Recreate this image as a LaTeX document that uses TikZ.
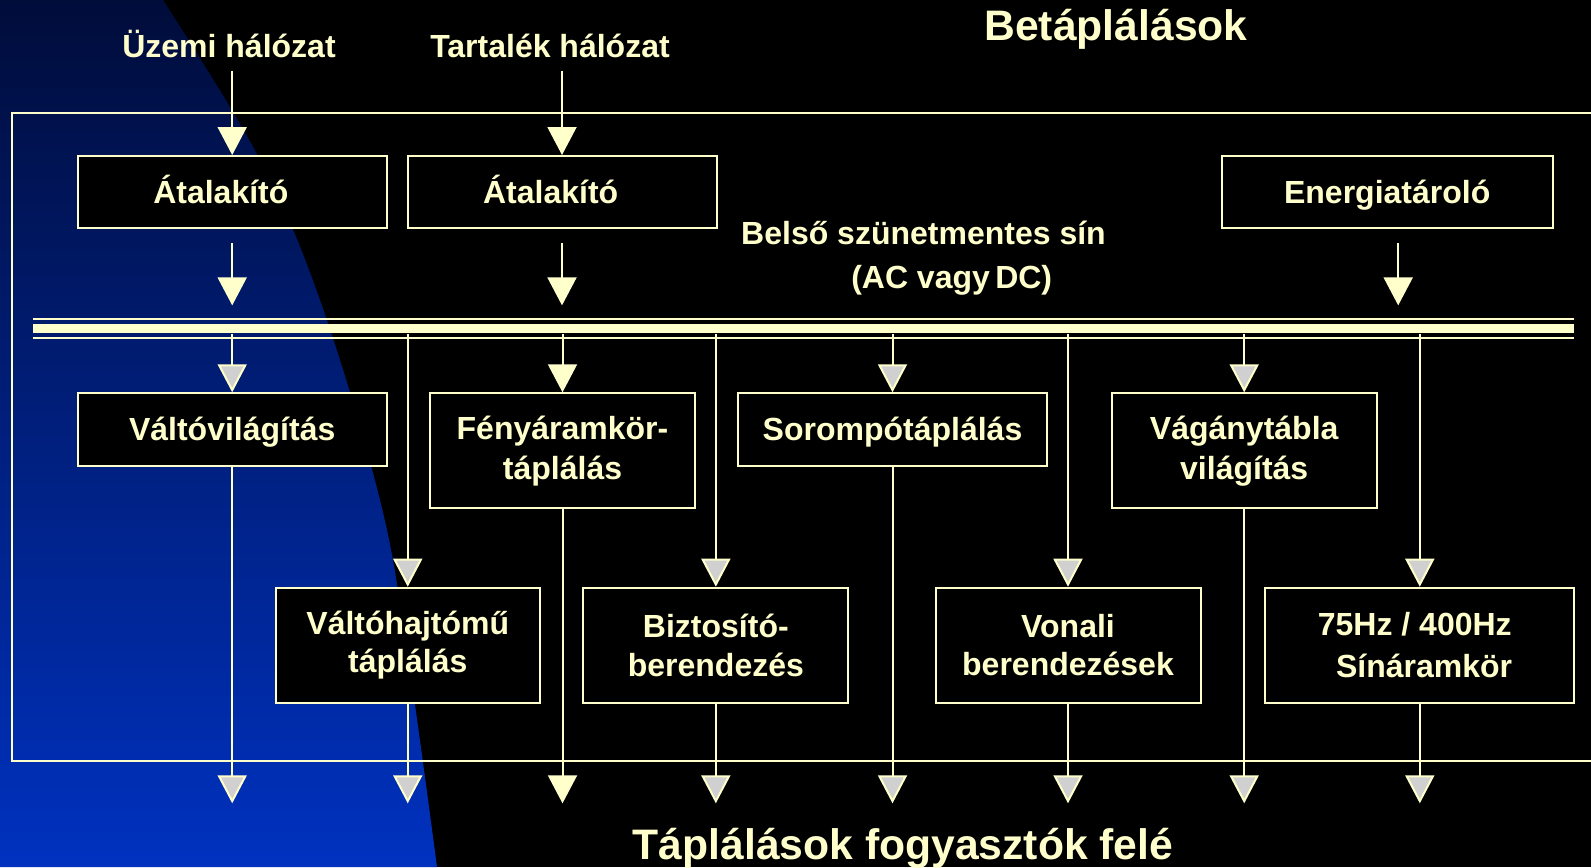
\documentclass[tikz,border=0pt]{standalone}
\usepackage{fontspec}
\setmainfont{Liberation Sans}
\usetikzlibrary{arrows.meta}
\definecolor{cream}{RGB}{255,255,204}
\definecolor{tipgrey}{RGB}{208,208,208}
\definecolor{navytop}{RGB}{0,12,58}
\definecolor{bluebot}{RGB}{0,50,192}
\newcommand\boxfont{\fontsize{24pt}{28pt}\selectfont\bfseries}
\newcommand\headfont{\fontsize{32pt}{38pt}\selectfont\bfseries}

\begin{document}
\begin{tikzpicture}[x=0.75pt,y=-0.75pt,
  box/.style={draw=cream, line width=1.5pt, fill=black, text=cream,
              font=\boxfont, align=center, inner sep=0pt},
  wide/.style={minimum width=231.75pt},
  narrow/.style={minimum width=198.75pt},
  short/.style={minimum height=54.2pt, text height=17.2pt, text depth=0pt},
  tall/.style={minimum height=86.25pt},
  lbl/.style={text=cream, font=\boxfont, inner sep=0pt, anchor=base},
  wire/.style={draw=cream, line width=1.5pt},
  feed/.style={wire, -{Triangle[length=21pt,width=21.75pt,fill=cream]}},
  feedg/.style={wire, -{Triangle[length=21pt,width=21.75pt,fill=tipgrey]}},
  busline/.style={draw=cream, line width=1.8pt},
]
\useasboundingbox (0,0) rectangle (1591,867);
\clip (0,0) rectangle (1591,867);

% background: black with a blue wedge on the left
\fill[black] (0,0) rectangle (1591,867);
\shade[top color=navytop, bottom color=bluebot]
  (0,0) -- plot[smooth, tension=0.6] coordinates
    {(163,0) (258,156) (320,300) (380,500) (407,650) (437,867)}
  -- (0,867) -- cycle;

% outer frame, open to the right
\draw[wire] (1600,113) -- (12.3,113) -- (12.3,760.5) -- (1600,760.5);

% headings
\node[lbl, font=\headfont] (title) at (1116,40.6) {Betáplálások};
\node[lbl] (uzemi) at (229,58) {Üzemi hálózat};
\node[lbl] (tartalek) at (550,58) {Tartalék hálózat};
\node[lbl] (sin1) at (923.5,244) {Belső szünetmentes sín};
\node[lbl] (sin2) at (951.7,288) {(AC vagy\,DC)};
\node[lbl, font=\headfont] (foot) at (903,859) {Táplálások fogyasztók felé};

% internal uninterruptible bus
\node[fill=cream, inner sep=0pt, minimum width=1155.75pt, minimum height=6.75pt] (bus) at (803.5,328.8) {};
\draw[busline] ([yshift=3.6pt]bus.north west) -- ([yshift=3.6pt]bus.north east);
\draw[busline] ([yshift=-3.3pt]bus.south west) -- ([yshift=-3.3pt]bus.south east);

% sources
\node[box, wide, short] (conv1) at (232.2,192.15) {Átalakító\rule{17pt}{0pt}};
\node[box, wide, short] (conv2) at (562,192.15) {Átalakító\rule{17pt}{0pt}};
\node[box, short, minimum width=248.25pt] (store) at (1387.2,192.15) {Energiatároló};

% first row of consumers
\node[box, wide, short] (r1a) at (232.2,429.4) {Váltóvilágítás};
\node[box, narrow, tall] (r1b) at (562.5,450.8) {Fényáramkör-\\[2pt]táplálás};
\node[box, wide, short] (r1c) at (892.5,429.4) {Sorompótáplálás};
\node[box, narrow, tall] (r1d) at (1244.2,450.8) {Vágánytábla\\[2pt]világítás};

% second row of consumers
\node[box, tall, minimum width=198pt] (r2a) at (407.75,645.2) {Váltóhajtómű\\táplálás};
\node[box, narrow, tall] (r2b) at (715.85,645.2) {Biztosító-\\[1pt]berendezés};
\node[box, narrow, tall] (r2c) at (1068,645.2) {Vonali\\berendezések};
\node[box, wide, tall] (r2d) at (1419.8,645.2) {75Hz / 400Hz\rule{7.5pt}{0pt}\\[4pt]\rule{6.5pt}{0pt}Sínáramkör};

% feeds into the converters and onto the bus
\draw[feed, shorten <=9pt] (conv1.north |- uzemi.south) -- (conv1.north);
\draw[feed, shorten <=9pt] (conv2.north |- tartalek.south) -- (conv2.north);
\draw[feed, shorten <=10.3pt, shorten >=14pt] (conv1.south) -- (conv1.south |- bus.north);
\draw[feed, shorten <=10.3pt, shorten >=14pt] (conv2.south) -- (conv2.south |- bus.north);
\draw[feed, shorten <=10.3pt, shorten >=14pt] ([xshift=8.25pt]store.south) -- ([xshift=8.25pt]store.south |- bus.north);

% taps from the bus
\draw[feedg] (bus.south -| r1a.north) -- (r1a.north);
\draw[feed]  (bus.south -| r1b.north) -- (r1b.north);
\draw[feedg] (bus.south -| r1c.north) -- (r1c.north);
\draw[feedg] (bus.south -| r1d.north) -- (r1d.north);
\draw[feedg] (bus.south -| r2a.north) -- (r2a.north);
\draw[feedg] (bus.south -| r2b.north) -- (r2b.north);
\draw[feedg] (bus.south -| r2c.north) -- (r2c.north);
\draw[feedg] (bus.south -| r2d.north) -- (r2d.north);

% outputs towards the consumers
\coordinate (sink) at (0,803.3);
\foreach \b in {r1a,r1c,r1d,r2a,r2b,r2c,r2d}
  \draw[feedg] (\b.south) -- (\b.south |- sink);
\draw[feed] (r1b.south) -- (r1b.south |- sink);
\end{tikzpicture}
\end{document}
